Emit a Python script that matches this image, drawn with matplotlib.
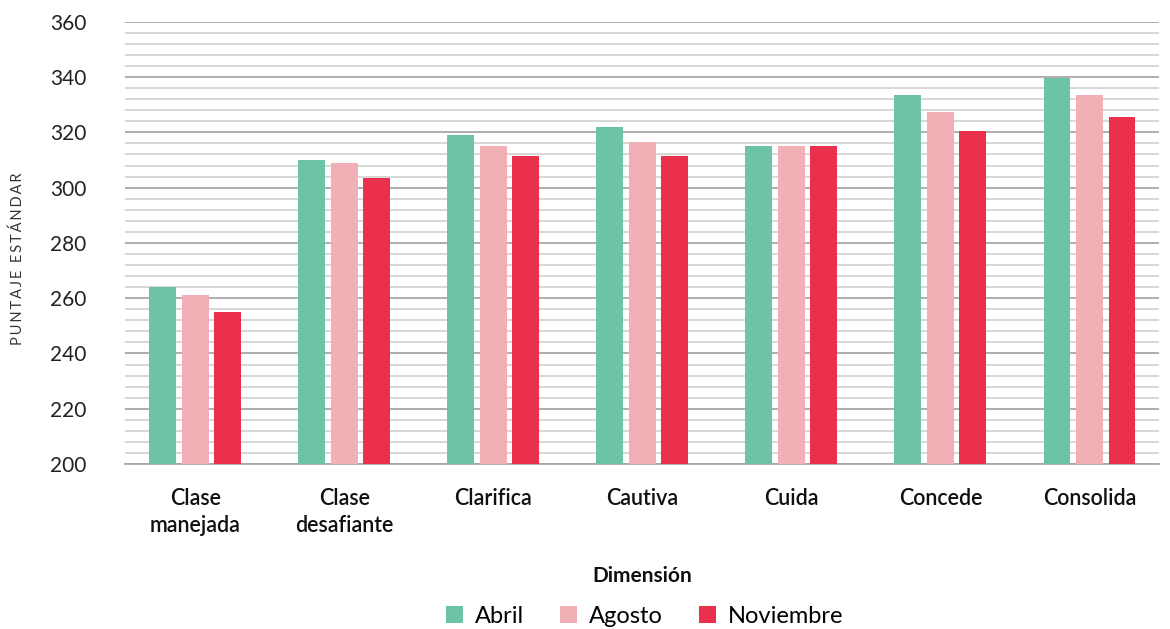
import matplotlib
matplotlib.use("Agg")
import matplotlib.pyplot as plt
import numpy as np
from matplotlib.ticker import MultipleLocator

categories = ["Clase\nmanejada", "Clase\ndesafiante", "Clarifica", "Cautiva", "Cuida", "Concede", "Consolida"]
series_names = ["Abril", "Agosto", "Noviembre"]
abril = [264, 310, 319, 322, 315, 333.5, 339.5]
agosto = [261, 309, 315, 316.5, 315, 327.5, 333.5]
noviembre = [255, 303.5, 311.5, 311.5, 315, 320.5, 325.5]
colors = ["#6cc3a6", "#f1b0b5", "#eb304b"]
y_title = "PUNTAJE ESTÁNDAR"

plt.rcParams['font.family'] = ['Lato', 'DejaVu Sans']

fig = plt.figure(figsize=(11.7, 6.29), dpi=100)
ax = fig.add_axes([0.107, 0.2623, 0.884, 0.703])

x = np.arange(len(categories))
width = 0.18
offset = 0.218
for i, (vals, name, c) in enumerate(zip([abril, agosto, noviembre], series_names, colors)):
    ax.bar(x + (i - 1) * offset, np.array(vals) - 200, width, bottom=200, color=c, label=name, zorder=3)

ax.set_ylim(200, 360)
ax.set_xlim(-0.47, 6.47)
ax.yaxis.set_major_locator(MultipleLocator(20))
ax.yaxis.set_minor_locator(MultipleLocator(4))
ax.grid(which='major', axis='y', color='#a8a8a8', linewidth=1.3, zorder=0)
ax.grid(which='minor', axis='y', color='#d4d4d4', linewidth=1.3, zorder=0)
ax.set_axisbelow(True)
for s in ['top', 'right', 'left']:
    ax.spines[s].set_visible(False)
ax.spines['bottom'].set_color('#a8a8a8')
ax.spines['bottom'].set_linewidth(1.3)
ax.tick_params(axis='both', which='both', length=0)
ax.tick_params(axis='y', labelsize=15, pad=54, colors='#222222')
ax.tick_params(axis='x', labelsize=15.5, pad=17, colors='#111111')
ax.set_xticks(x)
ax.set_xticklabels(categories, fontweight='semibold', linespacing=1.35)
for lbl in ax.get_yticklabels():
    lbl.set_horizontalalignment('left')

spaced = "\u2009".join(list(y_title))
ax.set_ylabel(spaced, fontsize=10.5, color='#333333')
ax.yaxis.set_label_coords(-0.097, 0.465)
ax.set_xlabel("Dimensión", fontsize=15, fontweight='bold', labelpad=22, color='#111111')

leg = fig.legend(loc='lower center', bbox_to_anchor=(0.551, -0.03), ncol=3, frameon=False,
                 fontsize=17, handlelength=0.75, handleheight=0.75, handletextpad=0.5, columnspacing=1.5)

fig.savefig("out.png", dpi=100)
